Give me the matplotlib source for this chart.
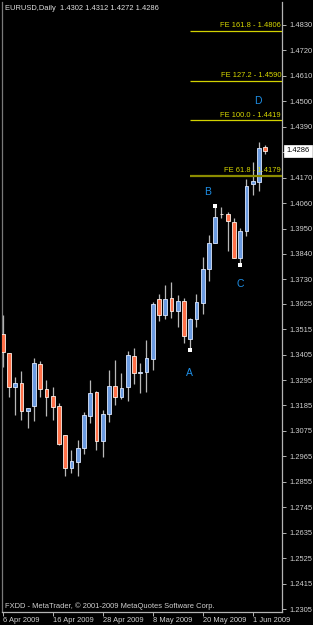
import matplotlib
matplotlib.use("Agg")
import matplotlib.pyplot as plt
from matplotlib.patches import Rectangle

# ---- data ----
opens = [1.3494, 1.3411, 1.3266, 1.3281, 1.3163, 1.3184, 1.3364, 1.3256, 1.3226, 1.3183,
         1.3057, 1.2916, 1.2942, 1.3000, 1.3141, 1.3243, 1.3032, 1.3147, 1.3269, 1.3223,
         1.3266, 1.3400, 1.3327, 1.3329, 1.3385, 1.3644, 1.3576, 1.3648, 1.3595, 1.3637,
         1.3473, 1.3558, 1.3627, 1.3774, 1.3886, 1.4014, 1.4012, 1.3980, 1.3821, 1.3939,
         1.4141, 1.4153, 1.4302]
highs = [1.3576, 1.3413, 1.3309, 1.3334, 1.3174, 1.3392, 1.3377, 1.3295, 1.3266, 1.3195,
         1.3057, 1.2993, 1.3036, 1.3156, 1.3295, 1.3246, 1.3166, 1.3338, 1.3382, 1.3327,
         1.3421, 1.3435, 1.3370, 1.3468, 1.3634, 1.3666, 1.3706, 1.3718, 1.3663, 1.3648,
         1.3562, 1.3667, 1.3828, 1.3922, 1.4048, 1.4042, 1.4023, 1.3994, 1.3951, 1.4163,
         1.4239, 1.4325, 1.4312]
lows = [1.3353, 1.3223, 1.3144, 1.3122, 1.3089, 1.3119, 1.3220, 1.3141, 1.3122, 1.3014,
        1.2881, 1.2892, 1.2881, 1.2974, 1.3108, 1.2993, 1.2961, 1.3115, 1.3187, 1.3212,
        1.3206, 1.3277, 1.3240, 1.3245, 1.3338, 1.3552, 1.3558, 1.3562, 1.3526, 1.3457,
        1.3424, 1.3526, 1.3581, 1.3725, 1.3886, 1.3994, 1.3854, 1.3821, 1.3792, 1.3918,
        1.4095, 1.4114, 1.4272]
closes = [1.3415, 1.3266, 1.3281, 1.3163, 1.3173, 1.3367, 1.3255, 1.3220, 1.3180, 1.3019,
          1.2916, 1.2945, 1.3003, 1.3144, 1.3238, 1.3032, 1.3147, 1.3269, 1.3223, 1.3259,
          1.3403, 1.3324, 1.3328, 1.3389, 1.3624, 1.3576, 1.3645, 1.3595, 1.3637, 1.3485,
          1.3558, 1.3631, 1.3775, 1.3886, 1.3999, 1.4013, 1.3983, 1.3821, 1.3939, 1.4134,
          1.4156, 1.4300, 1.4286]

date_labels = ["6 Apr 2009", "16 Apr 2009", "28 Apr 2009", "8 May 2009", "20 May 2009", "1 Jun 2009"]
date_index = [0, 8, 16, 24, 32, 40]

price_ticks = [1.4830, 1.4720, 1.4610, 1.4500, 1.4390, 1.4280, 1.4170, 1.4060, 1.3950,
               1.3840, 1.3730, 1.3625, 1.3515, 1.3405, 1.3295, 1.3185, 1.3075, 1.2965,
               1.2855, 1.2745, 1.2635, 1.2525, 1.2415, 1.2305]
hidden_tick = 1.4280  # label covered by the current-price box

fe_names = ["161.8", "127.2", "100.0", "61.8"]
fe_prices = [1.4806, 1.4590, 1.4419, 1.4179]

point_names = ["A", "B", "C"]
point_index = [30, 34, 38]
point_prices = [1.3424, 1.4048, 1.3792]

title = "EURUSD,Daily  1.4302 1.4312 1.4272 1.4286"
last_price = 1.4286
copyright_txt = "FXDD - MetaTrader, \u00a9 2001-2009 MetaQuotes Software Corp."

# ---- figure ----
W, H = 313, 625
fig = plt.figure(figsize=(W / 100, H / 100), dpi=100, facecolor="black")
ax = fig.add_axes([2 / W, 13 / H, 280 / W, 610 / H], facecolor="black")
XMAX = 44.69
ax.set_xlim(-0.11, XMAX)
ax.set_ylim(1.22922, 1.49294)

grey = "#b4b4b4"
font = "Liberation Sans"
fs = 5.4

bw = 0.62
for i in range(len(opens)):
    o, h, l, c = opens[i], highs[i], lows[i], closes[i]
    ax.plot([i, i], [l, h], color="#b8b8b8", lw=0.9, zorder=2, solid_capstyle="butt")
    bull = c >= o
    lo, hi = min(o, c), max(o, c)
    hgt = max(hi - lo, 0.0003)
    if bull:
        fc, ec = "#6a9ae0", "#dce8ff"
    else:
        fc, ec = "#ff7048", "#fff0e8"
    ax.add_patch(Rectangle((i - bw / 2, lo - (hgt - (hi - lo)) / 2), bw, hgt,
                           facecolor=fc, edgecolor=ec, lw=0.6, zorder=3))

# pivot markers
ax.scatter(point_index, point_prices, marker="s", s=5, color="white", zorder=4, linewidths=0)

# Fibonacci expansion levels
for name, p in zip(fe_names, fe_prices):
    if name == "61.8":
        col, lw = "#8c8c00", 1.6
    else:
        col, lw = "#d2d200", 0.9
    ax.plot([point_index[0], XMAX], [p, p], color=col, lw=lw, zorder=5, solid_capstyle="butt")
    ax.text(XMAX - 0.15, p + 0.0006, f"FE {name} - {p:.4f}", color="#d8d800", fontsize=fs,
            family=font, ha="right", va="bottom", zorder=6)

# wave labels
lab_col = "#1e8fe6"
ax.text(29.8, 1.3326, "A", color=lab_col, fontsize=7.5, family=font, ha="center", va="center")
ax.text(32.8, 1.4108, "B", color=lab_col, fontsize=7.5, family=font, ha="center", va="center")
ax.text(37.96, 1.3710, "C", color=lab_col, fontsize=7.5, family=font, ha="center", va="center")
ax.text(40.85, 1.4501, "D", color=lab_col, fontsize=7.5, family=font, ha="center", va="center")

# axes styling
ax.spines["top"].set_visible(False)
ax.spines["left"].set_color("#7a7a7a")
ax.spines["right"].set_color(grey)
ax.spines["bottom"].set_color(grey)
for s in ["left", "right", "bottom"]:
    ax.spines[s].set_linewidth(0.9)

ax.yaxis.tick_right()
ax.set_yticks(price_ticks)
ax.set_yticklabels(["" if abs(t - hidden_tick) < 1e-9 else f"{t:.4f}" for t in price_ticks])
ax.tick_params(axis="y", colors=grey, labelcolor="#d0d0d0", length=3, width=0.7, pad=2.5,
               labelsize=fs)
ax.set_xticks(date_index)
ax.set_xticklabels(date_labels, ha="left")
ax.tick_params(axis="x", colors=grey, labelcolor="#d0d0d0", length=3, width=0.7, pad=0.5,
               labelsize=fs)
for lbl in ax.get_xticklabels() + ax.get_yticklabels():
    lbl.set_family(font)

# current price box
ax.text(XMAX + 0.75, last_price, f"{last_price:.4f}", color="black", fontsize=fs, family=font,
        ha="left", va="center", zorder=10, clip_on=False,
        bbox=dict(boxstyle="square,pad=0.3", fc="white", ec="white", lw=0.5))

fig.text(5 / W, 1 - 8 / H, title, color="#e0e0e0", fontsize=fs, family=font,
         ha="left", va="center")
fig.text(5 / W, 1 - 606 / H, copyright_txt, color="#d0d0d0", fontsize=fs, family=font,
         ha="left", va="center")

fig.savefig("out.png", dpi=100, facecolor="black")
